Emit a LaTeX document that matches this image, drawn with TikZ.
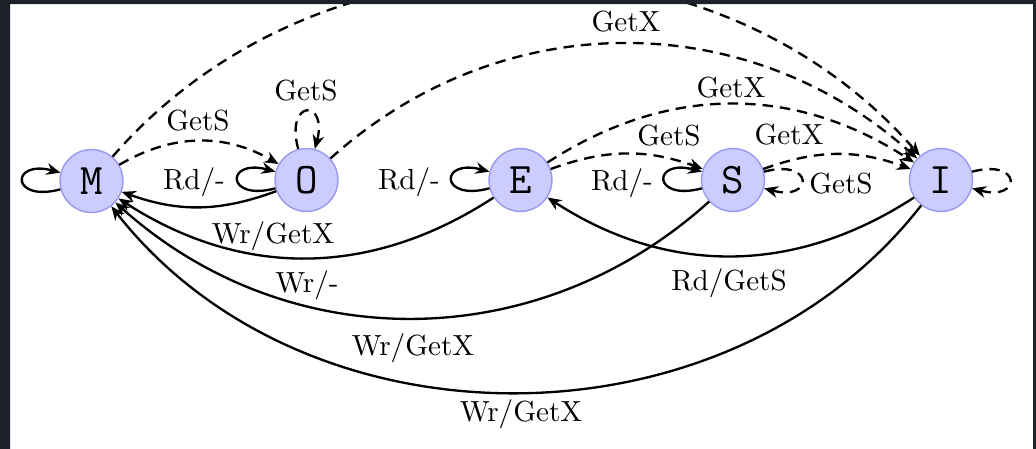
\documentclass[tikz,border=0pt]{standalone}
\usetikzlibrary{arrows.meta}
\definecolor{frame}{HTML}{1C2029}
\definecolor{statefill}{HTML}{CCCCFF}
\definecolor{stateedge}{HTML}{9A9AEE}
\begin{document}
\begin{tikzpicture}[x=0.3436pt,y=0.3436pt,
  state/.style={circle, draw=stateedge, fill=statefill, line width=0.5pt,
    minimum size=21.6pt, inner sep=0pt, font=\fontsize{15}{18}\selectfont\ttfamily},
  trans/.style={thick, -{Stealth[length=4.8pt,width=4pt]}},
  snoop/.style={trans, dash pattern=on 3.6pt off 2.4pt},
  lbl/.style={anchor=base, inner sep=0pt, font=\fontsize{10}{12}\selectfont},
]
\fill[white] (0,0) rectangle (1036,-449);
\useasboundingbox (0,0) rectangle (1036,-449);

\node[state] (M) at (91.5,-181) {M};
\node[state] (O) at (306.5,-180) {O};
\node[state] (E) at (520.5,-180) {E};
\node[state] (S) at (733,-180) {S};
\node[state] (I) at (941,-180) {I};

% snooped (dashed) transitions
\draw[snoop] (M) to[bend left=30] (O);
\draw[snoop] (M) to[bend left=49] (I);
\draw[snoop] (O) to[bend left=42] (I);
\draw[snoop] (E) to[bend left=33] (I);
\draw[snoop] (E) to[bend left=20] (S);
\draw[snoop] (S) to[bend left=20] (I);
\draw[snoop] (O) to[loop above] (O);
\draw[snoop] (S) to[loop right] (S);
\draw[snoop] (I) to[loop right] (I);

% processor (solid) transitions
\draw[trans] (M) to[loop left] (M);
\draw[trans] (O) to[loop left] (O);
\draw[trans] (E) to[loop left] (E);
\draw[trans] (S) to[loop left] (S);
\draw[trans] (O) to[bend left=20] (M);
\draw[trans] (E) to[bend left=33] (M);
\draw[trans] (S) to[bend left=42] (M);
\draw[trans] (I) to[bend left=52] (M);
\draw[trans] (I) to[bend left=33] (E);

% labels
\node[lbl] (lMO) at (198,-130) {GetS};
\node[lbl] (lOloop) at (306,-100) {GetS};
\node[lbl] (lOI) at (626,-31) {GetX};
\node[lbl] (lEI) at (731,-97) {GetX};
\node[lbl] (lES) at (669,-145) {GetS};
\node[lbl] (lSI) at (789,-144) {GetX};
\node[lbl] (lSloop) at (841,-193) {GetS};
\node[lbl] (lOrd) at (194,-189) {Rd/-};
\node[lbl] (lErd) at (409,-189) {Rd/-};
\node[lbl] (lSrd) at (622,-190) {Rd/-};
\node[lbl] (lOM) at (273,-243) {Wr/GetX};
\node[lbl] (lEM) at (307,-292) {Wr/-};
\node[lbl] (lSM) at (413,-355) {Wr/GetX};
\node[lbl] (lIM) at (521,-421) {Wr/GetX};
\node[lbl] (lIE) at (729,-290) {Rd/GetS};

% screenshot frame
\fill[frame, even odd rule] (0,0) rectangle (1036,-449) (10,-4) rectangle (1033,-449);
\end{tikzpicture}
\end{document}
